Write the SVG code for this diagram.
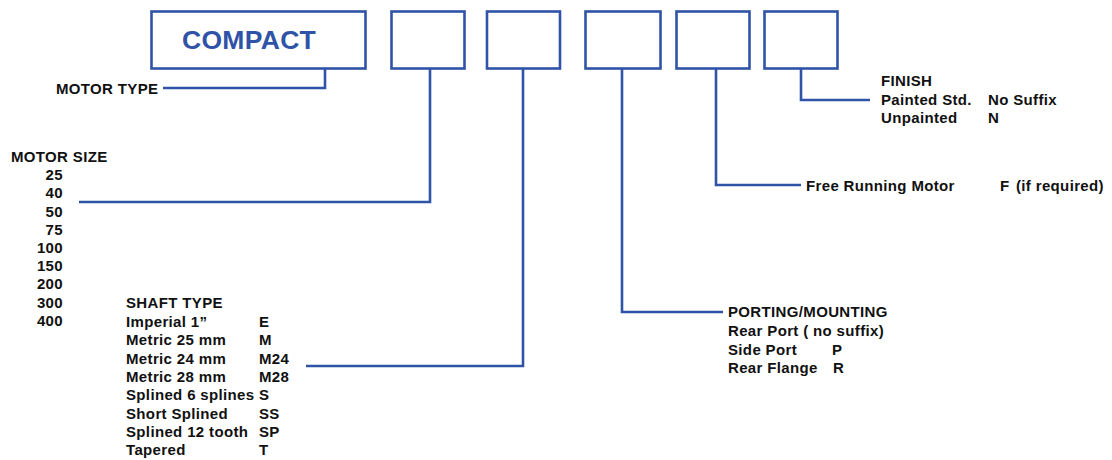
<svg xmlns="http://www.w3.org/2000/svg" width="1112" height="460" viewBox="0 0 1112 460">
<style>
.box{fill:#fff;stroke:#2f53a6;stroke-width:2.6}
.ln{fill:none;stroke:#2f53a6;stroke-width:2.6}
text{font-family:"Liberation Sans",Arial,sans-serif;font-weight:bold;font-size:15px;fill:#111;letter-spacing:0.35px}
.big{font-size:26.5px;fill:#2f53a6;letter-spacing:0.3px}
.r{text-anchor:end}
</style>
<rect width="1112" height="460" fill="#fff"/>
<g id="box-compact"><rect class="box" x="151.5" y="11.5" width="214" height="57"/><text class="big" x="182" y="49">COMPACT</text></g>
<g id="box-size"><rect class="box" x="391.5" y="11.5" width="73" height="57"/></g>
<g id="box-shaft"><rect class="box" x="487" y="11.5" width="73" height="57"/></g>
<g id="box-porting"><rect class="box" x="585.5" y="11.5" width="75" height="57"/></g>
<g id="box-free"><rect class="box" x="676.5" y="11.5" width="73" height="57"/></g>
<g id="box-finish"><rect class="box" x="764.5" y="11.5" width="73" height="57"/></g>
<g id="connectors">
<polyline class="ln" points="325,68 325,88 163,88"/>
<polyline class="ln" points="430,68 430,202 79,202"/>
<polyline class="ln" points="523,68 523,366 306,366"/>
<polyline class="ln" points="622,68 622,312 723,312"/>
<polyline class="ln" points="716,68 716,185 801,185"/>
<polyline class="ln" points="801,68 801,100 870,100"/>
</g>
<g id="label-motor-type"><text x="56" y="94">MOTOR TYPE</text></g>
<g id="label-motor-size">
<text x="11" y="162">MOTOR SIZE</text>
<text class="r" x="63" y="180">25</text>
<text class="r" x="63" y="198">40</text>
<text class="r" x="63" y="216.5">50</text>
<text class="r" x="63" y="235">75</text>
<text class="r" x="63" y="253">100</text>
<text class="r" x="63" y="271">150</text>
<text class="r" x="63" y="289">200</text>
<text class="r" x="63" y="307.5">300</text>
<text class="r" x="63" y="326">400</text>
</g>
<g id="label-shaft">
<text x="126" y="308">SHAFT TYPE</text>
<text x="126" y="327">Imperial 1”</text><text x="259" y="327">E</text>
<text x="126" y="345">Metric 25 mm</text><text x="259" y="345">M</text>
<text x="126" y="363.5">Metric 24 mm</text><text x="259" y="363.5">M24</text>
<text x="126" y="382">Metric 28 mm</text><text x="259" y="382">M28</text>
<text x="126" y="400">Splined 6 splines</text><text x="259" y="400">S</text>
<text x="126" y="418.5">Short Splined</text><text x="259" y="418.5">SS</text>
<text x="126" y="437">Splined 12 tooth</text><text x="259" y="437">SP</text>
<text x="126" y="455">Tapered</text><text x="259" y="455">T</text>
</g>
<g id="label-porting">
<text x="728" y="317">PORTING/MOUNTING</text>
<text x="728" y="336">Rear Port ( no suffix)</text>
<text x="728" y="355">Side Port</text><text x="832" y="355">P</text>
<text x="728" y="373">Rear Flange</text><text x="833" y="373">R</text>
</g>
<g id="label-free"><text x="806" y="190.5">Free Running Motor</text><text x="1000" y="190.5">F</text><text x="1016" y="190.5">(if required)</text></g>
<g id="label-finish">
<text x="881" y="86">FINISH</text>
<text x="881" y="104.5">Painted Std.</text><text x="988" y="104.5">No Suffix</text>
<text x="881" y="123">Unpainted</text><text x="988" y="123">N</text>
</g>
</svg>
